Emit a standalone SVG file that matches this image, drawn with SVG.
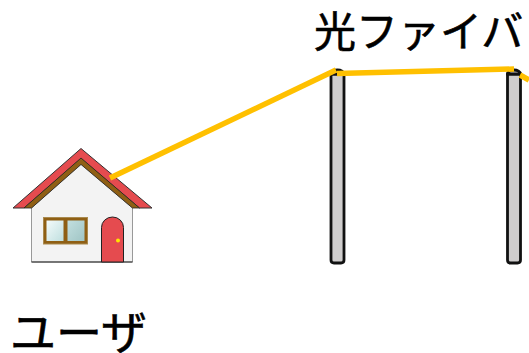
<svg xmlns="http://www.w3.org/2000/svg" width="529" height="353" viewBox="0 0 529 353">
<style>
.t{font-family:"Noto Sans CJK JP","Noto Sans CJK SC",sans-serif;font-size:42px;fill:#000;stroke:#000;stroke-width:0.600}
.pole{fill:#cfcdcd;stroke:#111;stroke-width:2.800}
.cap{fill:#cfcdcd;stroke:#111;stroke-width:2.800}
.fiber{fill:none;stroke:#ffc000;stroke-width:5.500}
</style>
<defs>
<linearGradient id="g1" x1="0" y1="0" x2="1" y2="1"><stop offset="0" stop-color="#f4fbfb"/><stop offset="1" stop-color="#bfdfdf"/></linearGradient>
<linearGradient id="g2" x1="0" y1="0" x2="1" y2="1"><stop offset="0" stop-color="#c2dfdf"/><stop offset="1" stop-color="#a0c5c5"/></linearGradient>
</defs>
<rect width="529" height="353" fill="#fff"/>
<g id="house">
<path d="M31.500 208V262H132.500V208L81 164Z" fill="#f3f3f3" stroke="#999" stroke-width="1"/>
<path d="M31.500 262H132.500" stroke="#222" stroke-width="1.200"/>
<path d="M13 208L81 148.500L152 208H139.500L81 158.500L24 208Z" fill="#e54b4f" stroke="#333" stroke-width="1"/>
<path d="M24 208L81 158L139.500 208H132.500L81 164.500L31.500 208Z" fill="#8f5f14" stroke="#222" stroke-width="0.800"/>
<rect x="43.500" y="217.500" width="44" height="26.500" fill="#8f5f14" stroke="#a98a4e" stroke-width="1"/>
<rect x="46.500" y="220.500" width="17" height="20.500" fill="url(#g1)"/>
<rect x="67.500" y="220.500" width="17" height="20.500" fill="url(#g2)"/>
<path d="M101.500 262V227.500A11 10.500 0 0 1 123.500 227.500V262Z" fill="#e54b4f" stroke="#222" stroke-width="1"/>
<circle cx="118" cy="240.500" r="2" fill="#ffe600"/>
</g>
<g id="pole1">
<path class="pole" d="M331 74V260Q331 263 334 263H341Q344 263 344 260V74Z"/>
<path class="cap" d="M331 74A6.500 4 0 0 1 344 74Z"/>
</g>
<g id="pole2">
<path class="pole" d="M507.500 74V260Q507.500 263 510.500 263H517.500Q520.500 263 520.500 260V74Z"/>
<path class="cap" d="M507.500 74A6.500 4 0 0 1 520.500 74Z"/>
</g>
<g id="connectors">
<path class="fiber" d="M110 178L336 70"/>
<path class="fiber" d="M337 73.500L514 69"/>
<path class="fiber" d="M520 75L529 80"/>
</g>
<g id="label-fiber"><text class="t" x="314" y="47">光ファイバ</text></g>
<g id="label-user"><text class="t" x="10" y="349" style="font-size:46px">ユーザ</text></g>
</svg>
